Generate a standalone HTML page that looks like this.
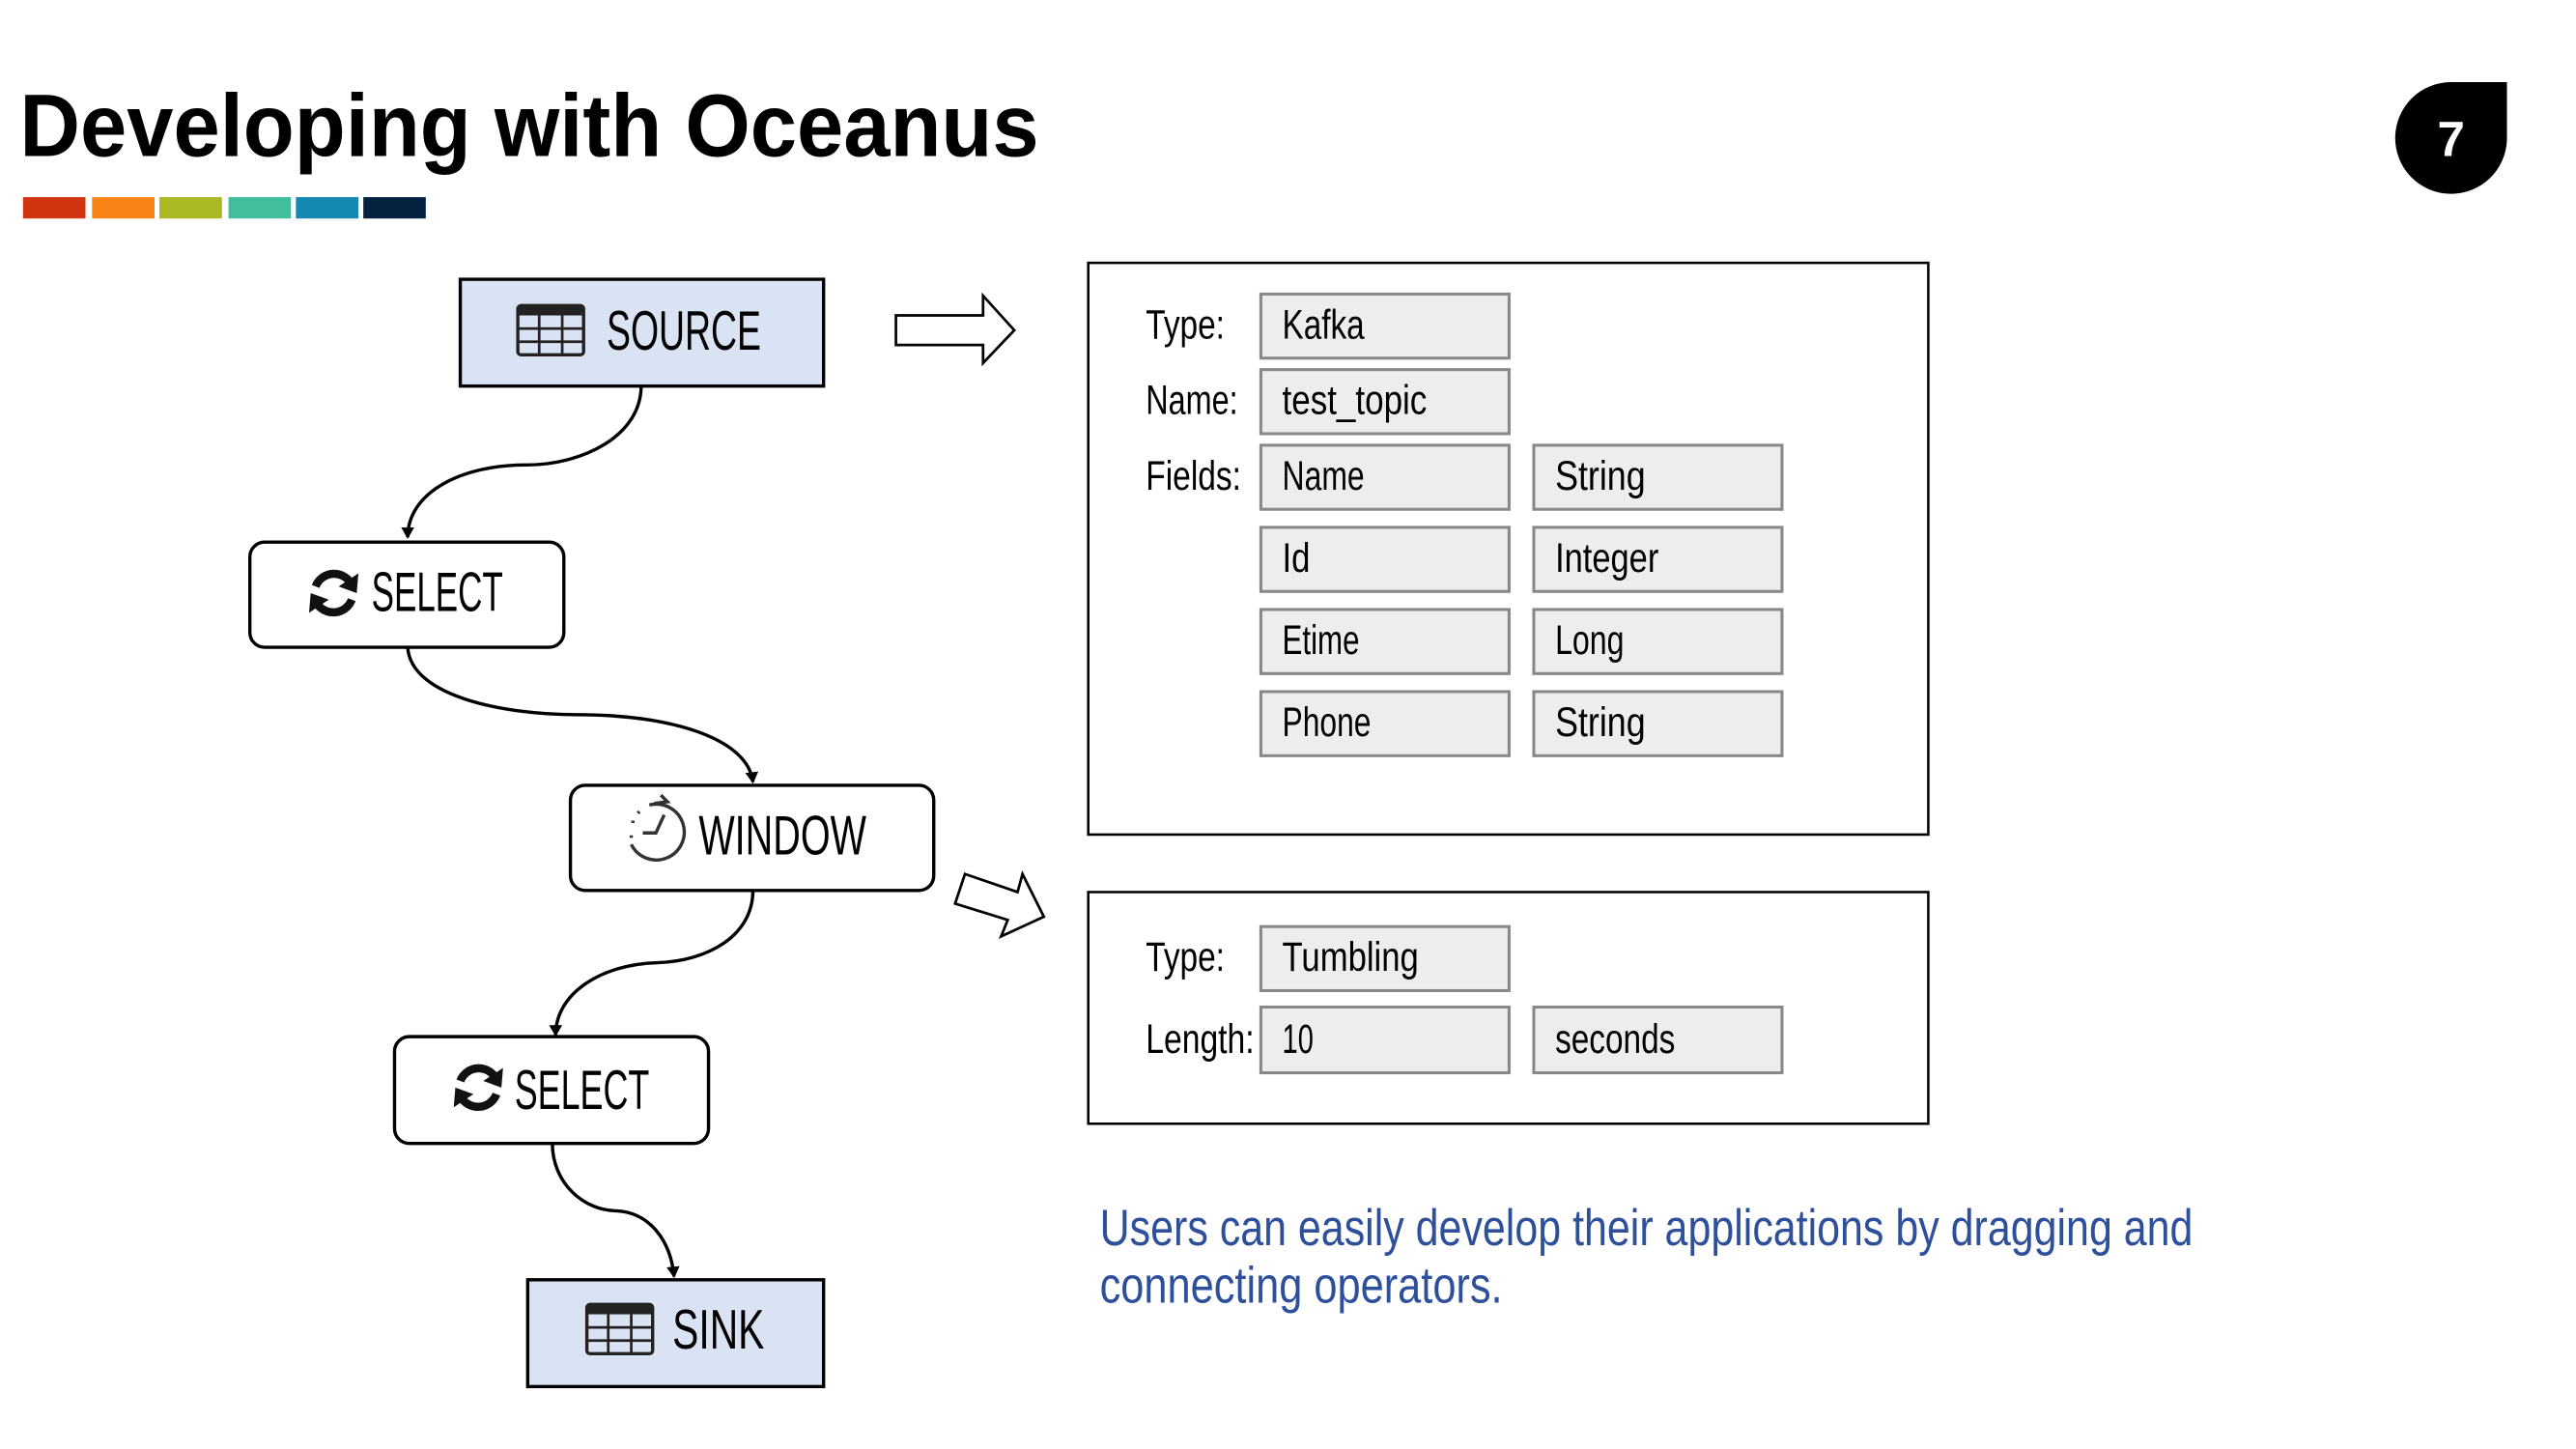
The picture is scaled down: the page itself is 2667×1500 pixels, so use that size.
<!DOCTYPE html>
<html><head><meta charset="utf-8"><style>
html,body{margin:0;padding:0;background:#fff;}
svg{display:block;}
.c{font-family:"Liberation Sans Narrow","Liberation Sans",sans-serif;}
</style></head><body>
<svg width="2667" height="1500" viewBox="0 0 1567 882" preserveAspectRatio="none" xmlns="http://www.w3.org/2000/svg">
<defs>
<marker id="ah" markerWidth="8" markerHeight="8" refX="6" refY="4" orient="auto" markerUnits="userSpaceOnUse">
<path d="M0,0 L7,4 L0,8 Z" fill="#000"/></marker>
<g id="tbl">
<rect x="0" y="0" width="40" height="30" rx="2" fill="none" stroke="#222" stroke-width="2"/>
<rect x="0" y="0" width="40" height="6" fill="#222"/>
<line x1="0" y1="14" x2="40" y2="14" stroke="#222" stroke-width="1.6"/>
<line x1="0" y1="22" x2="40" y2="22" stroke="#222" stroke-width="1.6"/>
<line x1="13" y1="6" x2="13" y2="30" stroke="#222" stroke-width="1.6"/>
<line x1="27" y1="6" x2="27" y2="30" stroke="#222" stroke-width="1.6"/>
</g>
<g id="ref">
<path d="M-11,-4 A12,12 0 0 1 11,-5" fill="none" stroke="#111" stroke-width="5"/>
<path d="M15,-12 L14,0 L3,-4 Z" fill="#111"/>
<path d="M11,4 A12,12 0 0 1 -11,5" fill="none" stroke="#111" stroke-width="5"/>
<path d="M-15,12 L-14,0 L-3,4 Z" fill="#111"/>
</g>
</defs>

<text x="12" y="95" font-family="'Liberation Sans',sans-serif" font-weight="bold" font-size="54" textLength="620" lengthAdjust="spacingAndGlyphs" fill="#000">Developing with Oceanus</text>
<rect x="14" y="120" width="38" height="13" fill="#D0350F"/>
<rect x="56" y="120" width="38" height="13" fill="#F88418"/>
<rect x="97" y="120" width="38" height="13" fill="#A9B823"/>
<rect x="139" y="120" width="38" height="13" fill="#41BE9E"/>
<rect x="180" y="120" width="38" height="13" fill="#1587B3"/>
<rect x="221" y="120" width="38" height="13" fill="#022240"/>

<path d="M1491,50 H1525 V85 A34,34 0 1 1 1491,50 Z" fill="#000"/>
<text x="1491" y="95" text-anchor="middle" font-family="'Liberation Sans',sans-serif" font-weight="bold" font-size="30" fill="#fff">7</text>

<g fill="none" stroke="#000" stroke-width="2">
<path d="M390,235 C390,265 355,283 320,283 C280,283 248,300 248,327" marker-end="url(#ah)"/>
<path d="M248,394 C250,425 310,435 350,435 C410,435 455,450 458,476" marker-end="url(#ah)"/>
<path d="M458,542 C458,570 430,585 400,586 C365,587 338,605 338,630" marker-end="url(#ah)"/>
<path d="M336,696 C336,720 355,737 375,737 C395,738 408,755 410,777" marker-end="url(#ah)"/>
</g>

<rect x="280" y="170" width="221" height="65" fill="#DAE3F3" stroke="#000" stroke-width="2"/>
<use href="#tbl" x="315" y="186"/>
<text class="c" x="369" y="213" font-size="34" textLength="94" lengthAdjust="spacingAndGlyphs">SOURCE</text>

<rect x="152" y="330" width="191" height="64" rx="9" fill="#fff" stroke="#000" stroke-width="2"/>
<use href="#ref" x="203" y="361"/>
<text class="c" x="226" y="372" font-size="34" textLength="80" lengthAdjust="spacingAndGlyphs">SELECT</text>

<rect x="347" y="478" width="221" height="64" rx="9" fill="#fff" stroke="#000" stroke-width="2"/>
<g fill="none" stroke="#333" stroke-width="2">
<path d="M395,490 A17,17 0 1 1 384,514"/>
<path d="M384,510 L384,506 M385,501 L385,499 M388,495 L389,494" stroke-dasharray="1.5 3"/>
<path d="M398,489 L406,488 L402,484"/>
<path d="M404,496 L399,507 L391,507"/>
</g>
<text class="c" x="425" y="520" font-size="34" textLength="102" lengthAdjust="spacingAndGlyphs">WINDOW</text>

<rect x="240" y="631" width="191" height="65" rx="9" fill="#fff" stroke="#000" stroke-width="2"/>
<use href="#ref" x="291" y="662"/>
<text class="c" x="313" y="675" font-size="34" textLength="82" lengthAdjust="spacingAndGlyphs">SELECT</text>

<rect x="321" y="779" width="180" height="65" fill="#DAE3F3" stroke="#000" stroke-width="2"/>
<use href="#tbl" x="357" y="794"/>
<text class="c" x="409" y="821" font-size="34" textLength="56" lengthAdjust="spacingAndGlyphs">SINK</text>

<path d="M545,192 H598 V180 L617,201 L598,221 V210 H545 Z" fill="#fff" stroke="#000" stroke-width="1.6"/>
<path d="M587,532 L619,543 L622,532 L635,558 L609,570 L613,560 L581,550 Z" fill="#fff" stroke="#000" stroke-width="1.6"/>

<rect x="662" y="160" width="511" height="348" fill="none" stroke="#000" stroke-width="1.5"/>
<g class="c" font-size="25">
<text x="697" y="206" textLength="48" lengthAdjust="spacingAndGlyphs">Type:</text>
<text x="697" y="252" textLength="56" lengthAdjust="spacingAndGlyphs">Name:</text>
<text x="697" y="298" textLength="58" lengthAdjust="spacingAndGlyphs">Fields:</text>
</g>
<g fill="#EDEDED" stroke="#888" stroke-width="1.8">
<rect x="767" y="179" width="151" height="39"/>
<rect x="767" y="225" width="151" height="39"/>
<rect x="767" y="271" width="151" height="39"/>
<rect x="933" y="271" width="151" height="39"/>
<rect x="767" y="321" width="151" height="39"/>
<rect x="933" y="321" width="151" height="39"/>
<rect x="767" y="371" width="151" height="39"/>
<rect x="933" y="371" width="151" height="39"/>
<rect x="767" y="421" width="151" height="39"/>
<rect x="933" y="421" width="151" height="39"/>
<rect x="767" y="564" width="151" height="39"/>
<rect x="767" y="613" width="151" height="40"/>
<rect x="933" y="613" width="151" height="40"/>
</g>
<g class="c" font-size="25">
<text x="780" y="206" textLength="50" lengthAdjust="spacingAndGlyphs">Kafka</text>
<text x="780" y="252" textLength="88" lengthAdjust="spacingAndGlyphs">test_topic</text>
<text x="780" y="298" textLength="50" lengthAdjust="spacingAndGlyphs">Name</text>
<text x="946" y="298" textLength="55" lengthAdjust="spacingAndGlyphs">String</text>
<text x="780" y="348" textLength="17" lengthAdjust="spacingAndGlyphs">Id</text>
<text x="946" y="348" textLength="63" lengthAdjust="spacingAndGlyphs">Integer</text>
<text x="780" y="398" textLength="47" lengthAdjust="spacingAndGlyphs">Etime</text>
<text x="946" y="398" textLength="42" lengthAdjust="spacingAndGlyphs">Long</text>
<text x="780" y="448" textLength="54" lengthAdjust="spacingAndGlyphs">Phone</text>
<text x="946" y="448" textLength="55" lengthAdjust="spacingAndGlyphs">String</text>
</g>

<rect x="662" y="543" width="511" height="141" fill="none" stroke="#000" stroke-width="1.5"/>
<g class="c" font-size="25">
<text x="697" y="591" textLength="48" lengthAdjust="spacingAndGlyphs">Type:</text>
<text x="697" y="641" textLength="66" lengthAdjust="spacingAndGlyphs">Length:</text>
<text x="780" y="591" textLength="83" lengthAdjust="spacingAndGlyphs">Tumbling</text>
<text x="780" y="641" textLength="19" lengthAdjust="spacingAndGlyphs">10</text>
<text x="946" y="641" textLength="73" lengthAdjust="spacingAndGlyphs">seconds</text>
</g>

<g class="c" font-size="31" fill="#2E4F9A">
<text x="669" y="758" textLength="665" lengthAdjust="spacingAndGlyphs">Users can easily develop their applications by dragging and</text>
<text x="669" y="793" textLength="245" lengthAdjust="spacingAndGlyphs">connecting operators.</text>
</g>
</svg>
</body></html>
